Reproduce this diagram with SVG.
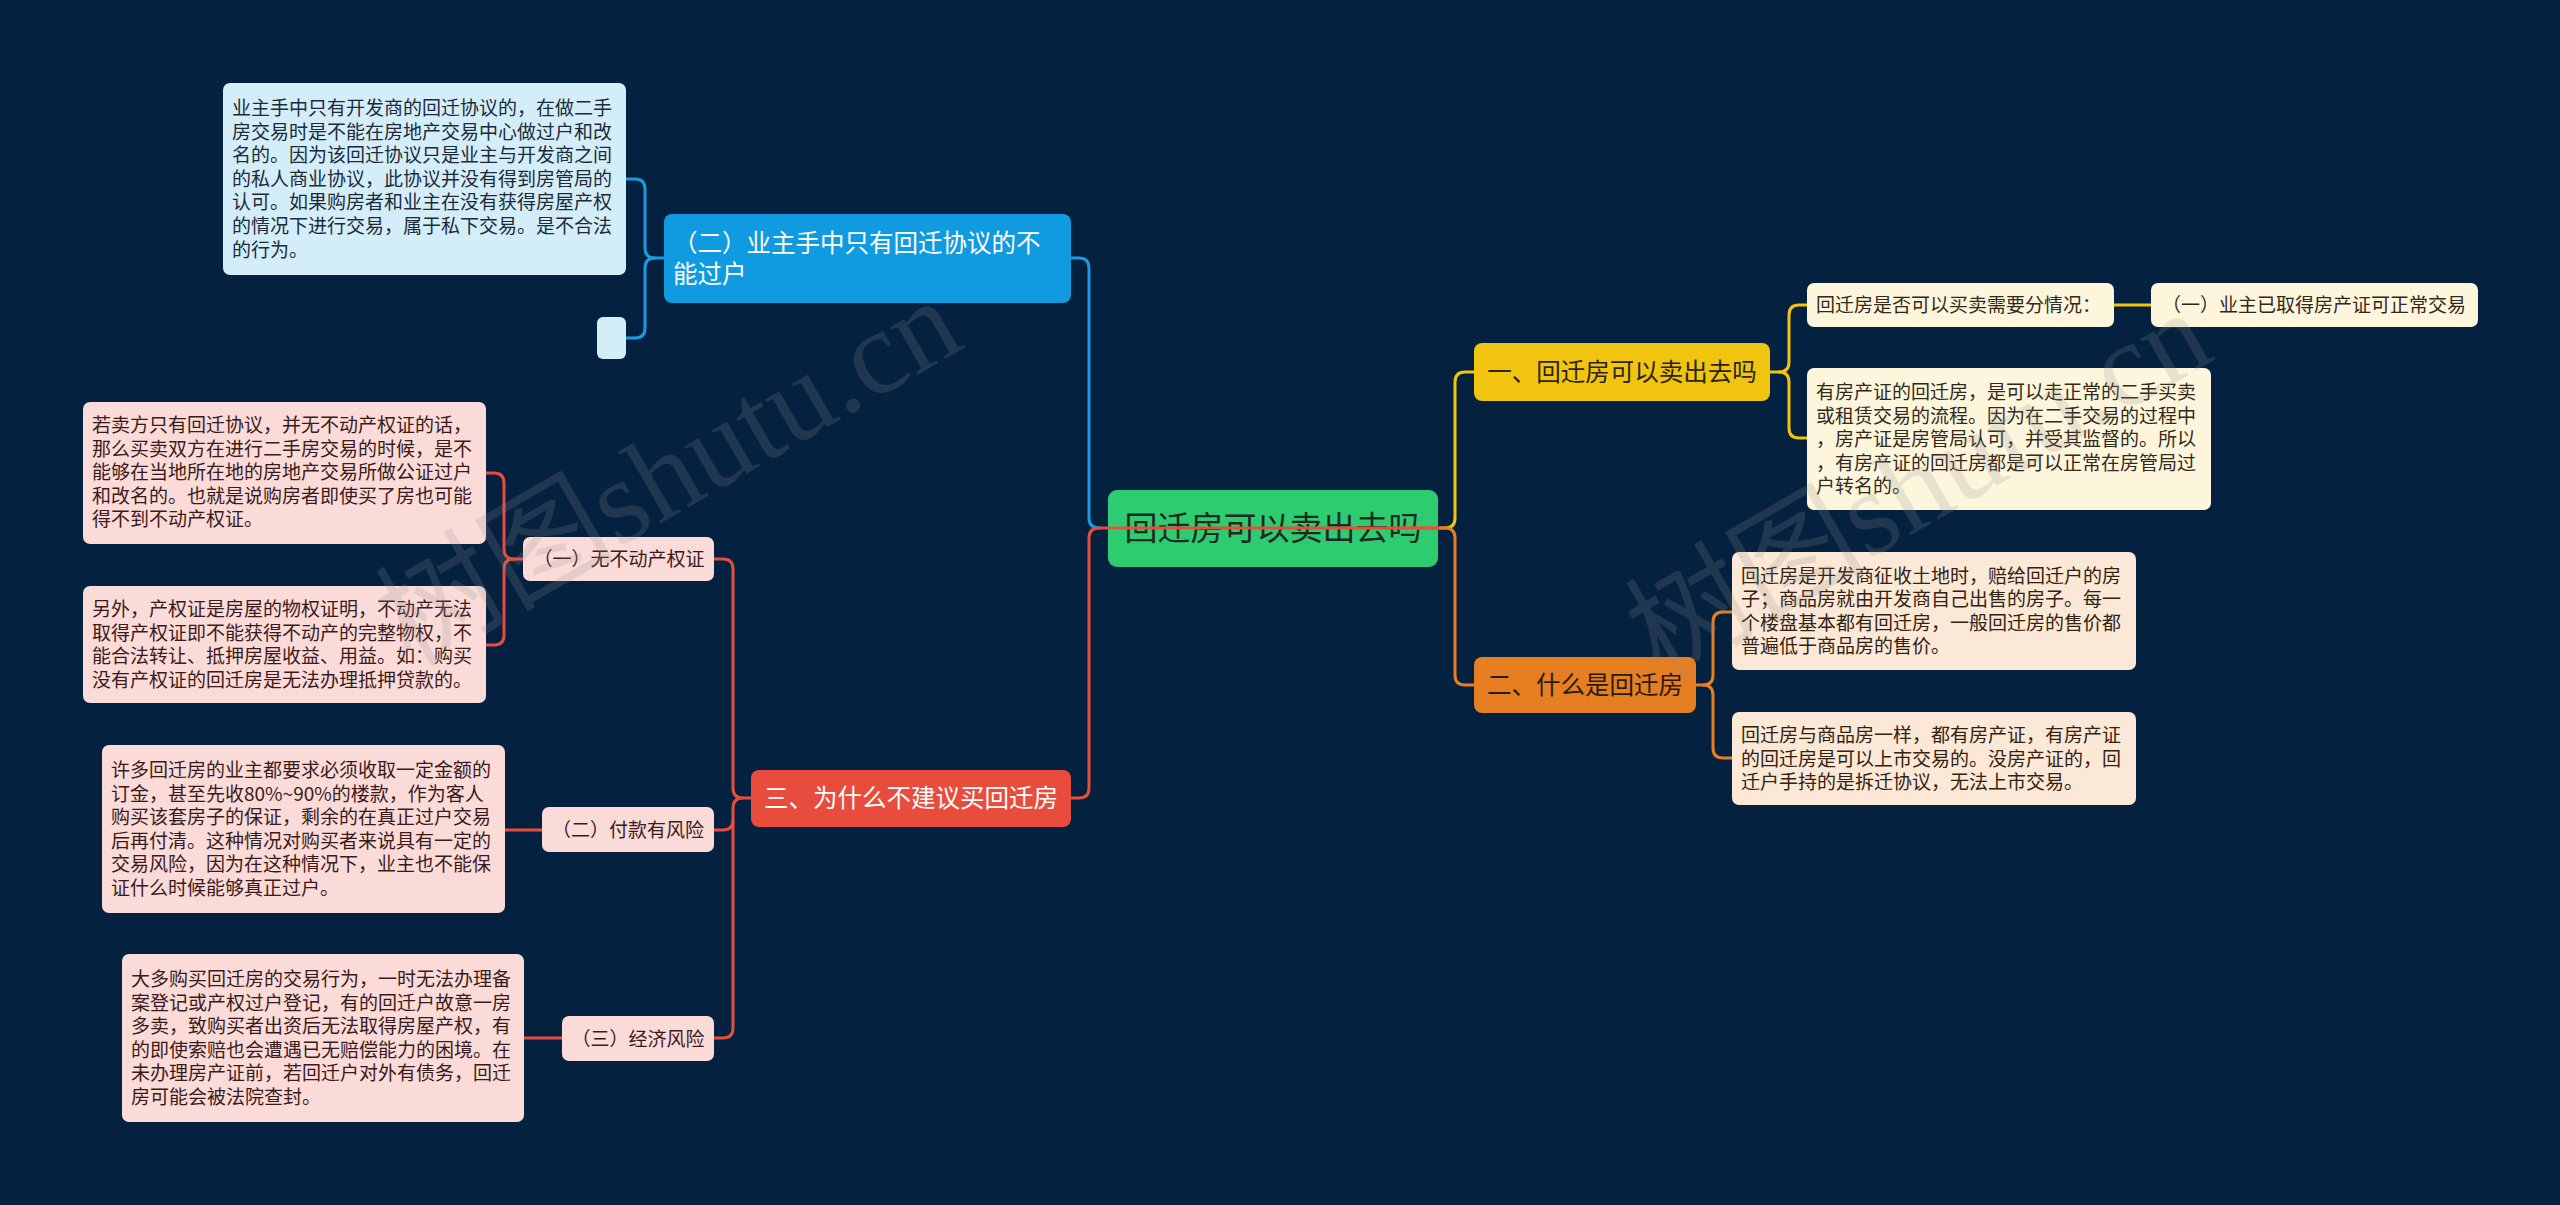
<svg xmlns="http://www.w3.org/2000/svg" width="2560" height="1205" viewBox="0 0 2560 1205">
<style>
.t{font-family:"Noto Sans CJK SC","Noto Sans",sans-serif;}
.b{font-size:19px;}
.m{font-size:24.5px;}
.s{font-size:19px;}
.c{fill:none;stroke-width:3;stroke-linecap:round;stroke-linejoin:round;}
.cb{stroke:#1a9be0;} .cy{stroke:#f1c40f;} .co{stroke:#e67e22;} .cr{stroke:#e74c3c;}
.wm{font-family:"Liberation Serif","Noto Sans CJK SC",serif;font-size:120px;fill:#909090;fill-opacity:0.2;}
</style>
<rect x="0" y="0" width="2560" height="1205" fill="#04213f"/>

<g id="root">
<rect x="1108" y="490" width="330" height="77" rx="9" fill="#2ecc71"/>
<text class="t" x="1273" y="540" font-size="33" text-anchor="middle" fill="#1e2b20">回迁房可以卖出去吗</text>
</g>

<g id="connectors">
<path class="c cb" d="M1100,528 Q1089,528 1089,518 V268 Q1089,258 1079,258 H1071"/>
<path class="c cy" d="M1440,528 H1445 Q1455,528 1455,518 V382 Q1455,372 1465,372 H1474"/>
<path class="c co" d="M1400,528 H1445 Q1455,528 1455,538 V675 Q1455,685 1465,685 H1474"/>
<path class="c cr" d="M1438,528 H1099 Q1089,528 1089,538 V788 Q1089,798 1079,798 H1071"/>
<path class="c cb" d="M664,258 H655 Q645,258 645,248 V189 Q645,179 635,179 H626"/>
<path class="c cb" d="M655,258 Q645,258 645,268 V328 Q645,338 635,338 H626"/>
<path class="c cy" d="M1770,372 H1779 Q1789,372 1789,362 V315 Q1789,305 1799,305 H1807"/>
<path class="c cy" d="M1779,372 Q1789,372 1789,382 V428 Q1789,438 1799,438 H1807"/>
<path class="c cy" d="M2114,305 H2151"/>
<path class="c co" d="M1696,685 H1703 Q1713,685 1713,675 V622 Q1713,612 1723,612 H1732"/>
<path class="c co" d="M1703,685 Q1713,685 1713,695 V748 Q1713,758 1723,758 H1732"/>
<path class="c cr" d="M751,798 H743 Q733,798 733,788 V569 Q733,559 723,559 H714"/>
<path class="c cr" d="M743,798 Q733,798 733,808 V1028 Q733,1038 723,1038 H714"/>
<path class="c cr" d="M733,820 Q733,830 723,830 H714"/>
<path class="c cr" d="M523,559 H514 Q504,559 504,549 V483 Q504,473 494,473 H486"/>
<path class="c cr" d="M514,559 Q504,559 504,569 V635 Q504,645 494,645 H486"/>
<path class="c cr" d="M542,830 H505"/>
<path class="c cr" d="M562,1038 H524"/>
</g>

<g id="n-blue">
<rect x="664" y="214" width="407" height="89" rx="8" fill="#109ae0"/>
<text class="t m" fill="#ffffff"><tspan x="673" y="252">（二）业主手中只有回迁协议的不</tspan><tspan x="673" y="283">能过户</tspan></text>
</g>
<g id="n-blue-1">
<rect x="223" y="83" width="403" height="192" rx="7" fill="#d4eef9"/>
<text class="t b" fill="#1c2a3a"><tspan x="232" y="115">业主手中只有开发商的回迁协议的，在做二手</tspan><tspan x="232" y="138.6">房交易时是不能在房地产交易中心做过户和改</tspan><tspan x="232" y="162.2">名的。因为该回迁协议只是业主与开发商之间</tspan><tspan x="232" y="185.8">的私人商业协议，此协议并没有得到房管局的</tspan><tspan x="232" y="209.4">认可。如果购房者和业主在没有获得房屋产权</tspan><tspan x="232" y="233">的情况下进行交易，属于私下交易。是不合法</tspan><tspan x="232" y="256.6">的行为。</tspan></text>
</g>
<g id="n-blue-2">
<rect x="597" y="317" width="29" height="42" rx="6" fill="#d4eef9"/>
</g>

<g id="n-yellow">
<rect x="1474" y="343" width="296" height="58" rx="8" fill="#f1c40f"/>
<text class="t m" x="1622" y="381" text-anchor="middle" fill="#2a2410">一、回迁房可以卖出去吗</text>
</g>
<g id="n-yellow-1">
<rect x="1807" y="283" width="307" height="44" rx="7" fill="#fdf6dc"/>
<text class="t s" x="1816" y="312" fill="#33291a">回迁房是否可以买卖需要分情况：</text>
</g>
<g id="n-yellow-1-1">
<rect x="2151" y="283" width="327" height="44" rx="7" fill="#fdf6dc"/>
<text class="t s" x="2314" y="312" text-anchor="middle" fill="#33291a">（一）业主已取得房产证可正常交易</text>
</g>
<g id="n-yellow-2">
<rect x="1807" y="368" width="404" height="142" rx="7" fill="#fdf6dc"/>
<text class="t b" fill="#33291a"><tspan x="1816" y="399">有房产证的回迁房，是可以走正常的二手买卖</tspan><tspan x="1816" y="422.6">或租赁交易的流程。因为在二手交易的过程中</tspan><tspan x="1816" y="446.2">，房产证是房管局认可，并受其监督的。所以</tspan><tspan x="1816" y="469.8">，有房产证的回迁房都是可以正常在房管局过</tspan><tspan x="1816" y="493.4">户转名的。</tspan></text>
</g>

<g id="n-orange">
<rect x="1474" y="657" width="222" height="56" rx="8" fill="#e67e22"/>
<text class="t m" x="1585" y="694" text-anchor="middle" fill="#2a1a0c">二、什么是回迁房</text>
</g>
<g id="n-orange-1">
<rect x="1732" y="552" width="404" height="118" rx="7" fill="#fbe8d6"/>
<text class="t b" fill="#33220f"><tspan x="1741" y="582.6">回迁房是开发商征收土地时，赔给回迁户的房</tspan><tspan x="1741" y="606.2">子；商品房就由开发商自己出售的房子。每一</tspan><tspan x="1741" y="629.8">个楼盘基本都有回迁房，一般回迁房的售价都</tspan><tspan x="1741" y="653.4">普遍低于商品房的售价。</tspan></text>
</g>
<g id="n-orange-2">
<rect x="1732" y="712" width="404" height="93" rx="7" fill="#fbe8d6"/>
<text class="t b" fill="#33220f"><tspan x="1741" y="741.9">回迁房与商品房一样，都有房产证，有房产证</tspan><tspan x="1741" y="765.5">的回迁房是可以上市交易的。没房产证的，回</tspan><tspan x="1741" y="789.1">迁户手持的是拆迁协议，无法上市交易。</tspan></text>
</g>

<g id="n-red">
<rect x="751" y="770" width="320" height="57" rx="8" fill="#e74c3c"/>
<text class="t m" x="911" y="807" text-anchor="middle" fill="#ffffff">三、为什么不建议买回迁房</text>
</g>
<g id="n-red-1">
<rect x="523" y="537" width="191" height="44" rx="7" fill="#fadbd8"/>
<text class="t s" x="619" y="566" text-anchor="middle" fill="#3a1a1a">（一）无不动产权证</text>
</g>
<g id="n-red-1-1">
<rect x="83" y="402" width="403" height="142" rx="7" fill="#fadbd8"/>
<text class="t b" fill="#3a1a1a"><tspan x="92" y="432">若卖方只有回迁协议，并无不动产权证的话，</tspan><tspan x="92" y="455.6">那么买卖双方在进行二手房交易的时候，是不</tspan><tspan x="92" y="479.2">能够在当地所在地的房地产交易所做公证过户</tspan><tspan x="92" y="502.8">和改名的。也就是说购房者即使买了房也可能</tspan><tspan x="92" y="526.4">得不到不动产权证。</tspan></text>
</g>
<g id="n-red-1-2">
<rect x="83" y="586" width="403" height="117" rx="7" fill="#fadbd8"/>
<text class="t b" fill="#3a1a1a"><tspan x="92" y="616">另外，产权证是房屋的物权证明，不动产无法</tspan><tspan x="92" y="639.6">取得产权证即不能获得不动产的完整物权，不</tspan><tspan x="92" y="663.2">能合法转让、抵押房屋收益、用益。如：购买</tspan><tspan x="92" y="686.8">没有产权证的回迁房是无法办理抵押贷款的。</tspan></text>
</g>
<g id="n-red-2">
<rect x="542" y="807" width="172" height="45" rx="7" fill="#fadbd8"/>
<text class="t s" x="628" y="836.5" text-anchor="middle" fill="#3a1a1a">（二）付款有风险</text>
</g>
<g id="n-red-2-1">
<rect x="102" y="745" width="403" height="168" rx="7" fill="#fadbd8"/>
<text class="t b" fill="#3a1a1a"><tspan x="111" y="777">许多回迁房的业主都要求必须收取一定金额的</tspan><tspan x="111" y="800.6">订金，甚至先收80%~90%的楼款，作为客人</tspan><tspan x="111" y="824.2">购买该套房子的保证，剩余的在真正过户交易</tspan><tspan x="111" y="847.8">后再付清。这种情况对购买者来说具有一定的</tspan><tspan x="111" y="871.4">交易风险，因为在这种情况下，业主也不能保</tspan><tspan x="111" y="895">证什么时候能够真正过户。</tspan></text>
</g>
<g id="n-red-3">
<rect x="562" y="1016" width="152" height="45" rx="7" fill="#fadbd8"/>
<text class="t s" x="638" y="1045.5" text-anchor="middle" fill="#3a1a1a">（三）经济风险</text>
</g>
<g id="n-red-3-1">
<rect x="122" y="954" width="402" height="168" rx="7" fill="#fadbd8"/>
<text class="t b" fill="#3a1a1a"><tspan x="131" y="986">大多购买回迁房的交易行为，一时无法办理备</tspan><tspan x="131" y="1009.6">案登记或产权过户登记，有的回迁户故意一房</tspan><tspan x="131" y="1033.2">多卖，致购买者出资后无法取得房屋产权，有</tspan><tspan x="131" y="1056.8">的即使索赔也会遭遇已无赔偿能力的困境。在</tspan><tspan x="131" y="1080.4">未办理房产证前，若回迁户对外有债务，回迁</tspan><tspan x="131" y="1104">房可能会被法院查封。</tspan></text>
</g>

<text class="wm" transform="translate(410,668) rotate(-30)">树图shutu.cn</text>
<text class="wm" transform="translate(1660,680) rotate(-30)">树图shutu.cn</text>
</svg>
